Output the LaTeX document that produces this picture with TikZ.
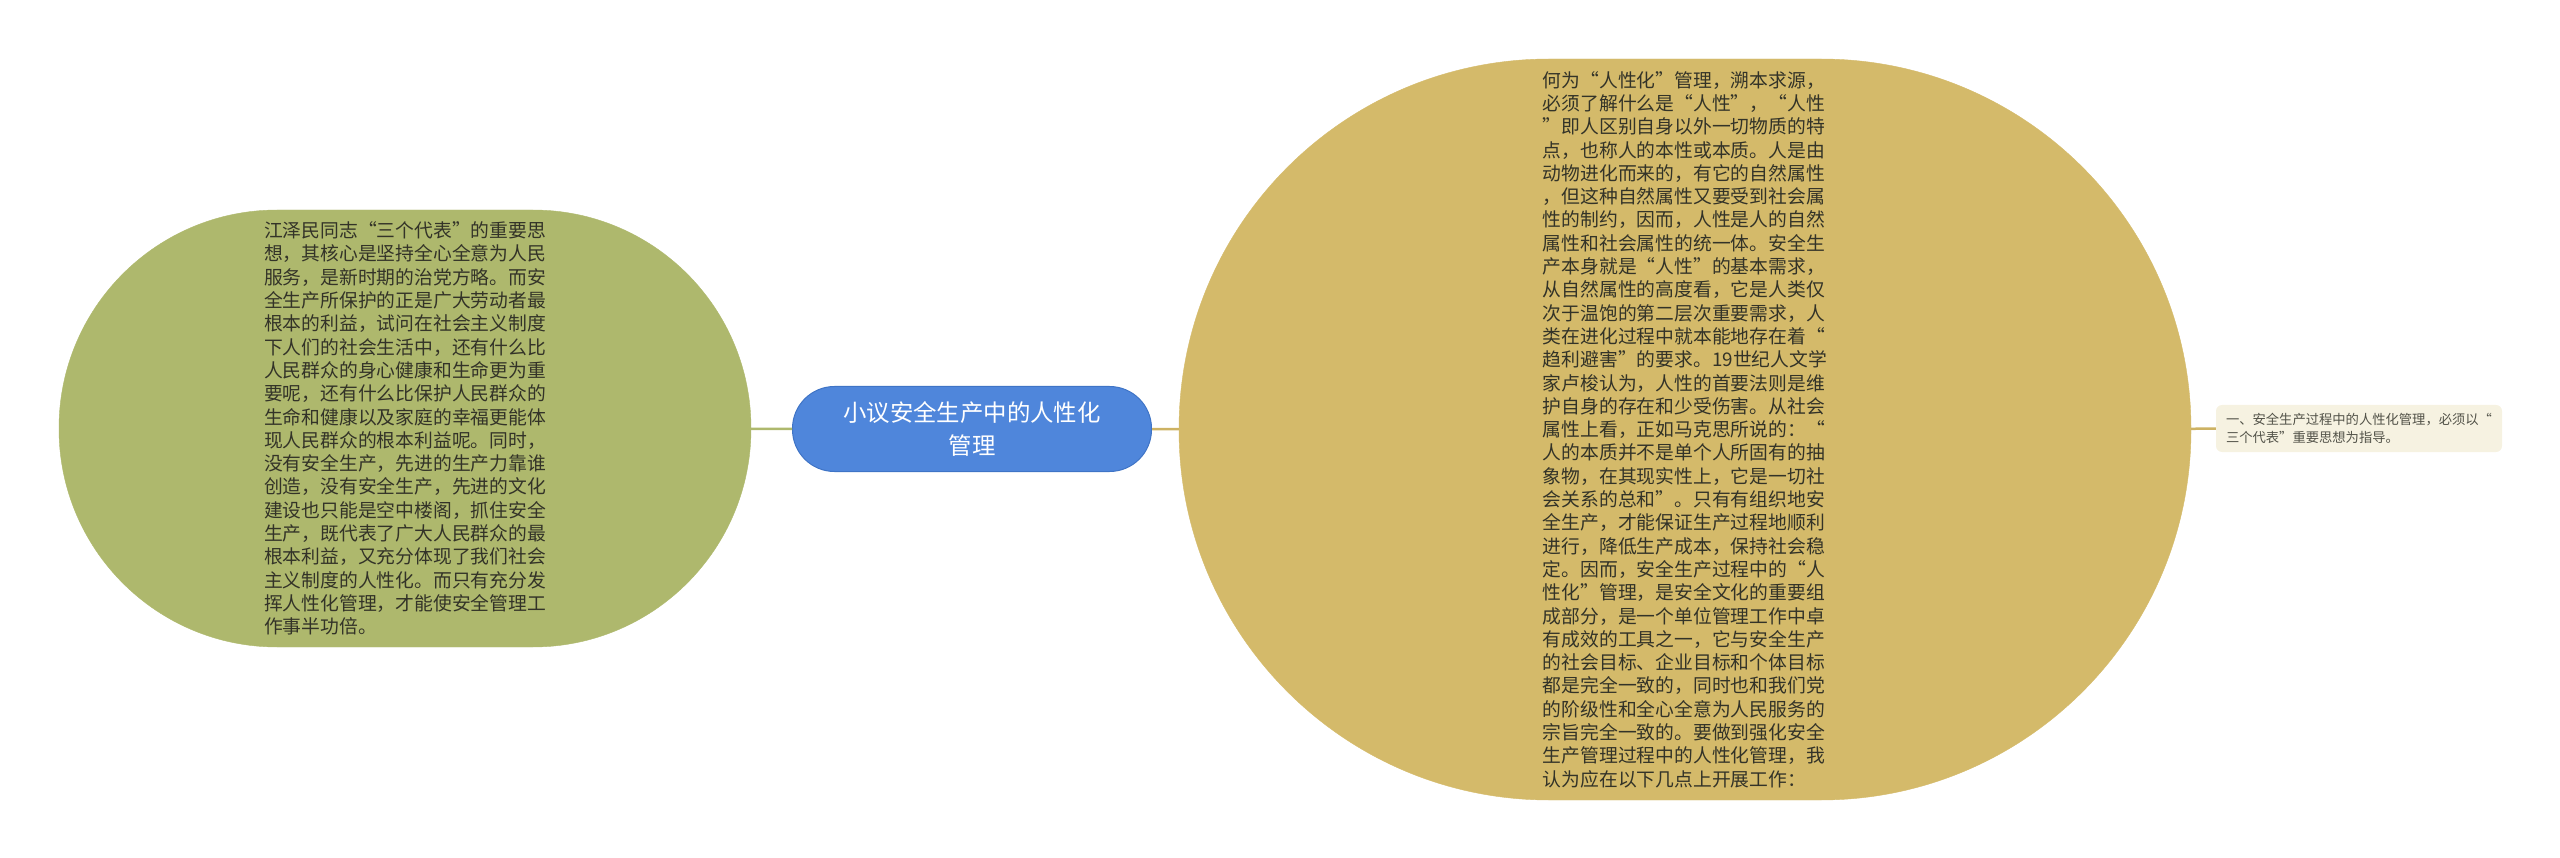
\documentclass[tikz,border=0pt]{standalone}
\usepackage{fontspec}
\setmainfont{Noto Sans CJK SC}[RawFeature=+fwid]
\newfontfamily\plainfont{Noto Sans CJK SC}
\definecolor{olivefill}{HTML}{AEB86D}
\definecolor{goldfill}{HTML}{D4BA6A}
\definecolor{goldline}{HTML}{CDB263}
\definecolor{bluefill}{HTML}{4F86DB}
\definecolor{blueline}{HTML}{3F74C6}
\definecolor{creamfill}{HTML}{F6F2E1}
\definecolor{bodytext}{HTML}{333328}
\tikzset{
  topic/.style={draw=#1, fill=#1, inner sep=0pt, align=left, text=bodytext,
    font=\fontsize{18.8}{23.3}\selectfont},
  root/.style={draw=blueline, fill=bluefill, line width=1pt, inner sep=0pt,
    align=center, text=white, font=\fontsize{23.4}{33}\selectfont,
    minimum width=359pt, minimum height=85pt, rounded corners=42pt},
  leaf/.style={fill=creamfill, inner sep=6pt, align=left, text=bodytext!85,
    font=\fontsize{13.3}{18}\selectfont, minimum width=286pt,
    minimum height=47pt, rounded corners=6pt},
  link/.style={-, line width=2.5pt, draw=#1}
}
\begin{document}
\begin{tikzpicture}[x=1pt, y=-1pt]
\useasboundingbox (0,0) rectangle (2560,858);
\node[root] (R) at (972,429) {小议安全生产中的人性化\\管理};
\node[topic=olivefill, minimum width=692pt, minimum height=437pt,
  rounded corners=218pt] (L) at (405,428.5) {%
江泽民同志“三个代表”的重要思\\
想，其核心是坚持全心全意为人民\\
服务，是新时期的治党方略。而安\\
全生产所保护的正是广大劳动者最\\
根本的利益，试问在社会主义制度\\
下人们的社会生活中，还有什么比\\
人民群众的身心健康和生命更为重\\
要呢，还有什么比保护人民群众的\\
生命和健康以及家庭的幸福更能体\\
现人民群众的根本利益呢。同时，\\
没有安全生产，先进的生产力靠谁\\
创造，没有安全生产，先进的文化\\
建设也只能是空中楼阁，抓住安全\\
生产，既代表了广大人民群众的最\\
根本利益，又充分体现了我们社会\\
主义制度的人性化。而只有充分发\\
挥人性化管理，才能使安全管理工\\
作事半功倍。};
\node[topic=goldfill, minimum width=1012pt, minimum height=741pt,
  rounded corners=370pt] (M) at (1685,429.5) {%
何为“人性化”管理，溯本求源，\\
必须了解什么是“人性”，“人性\\
”即人区别自身以外一切物质的特\\
点，也称人的本性或本质。人是由\\
动物进化而来的，有它的自然属性\\
，但这种自然属性又要受到社会属\\
性的制约，因而，人性是人的自然\\
属性和社会属性的统一体。安全生\\
产本身就是“人性”的基本需求，\\
从自然属性的高度看，它是人类仅\\
次于温饱的第二层次重要需求，人\\
类在进化过程中就本能地存在着“\\
趋利避害”的要求。{\plainfont 19}世纪人文学\\
家卢梭认为，人性的首要法则是维\\
护自身的存在和少受伤害。从社会\\
属性上看，正如马克思所说的：“\\
人的本质并不是单个人所固有的抽\\
象物，在其现实性上，它是一切社\\
会关系的总和”。只有有组织地安\\
全生产，才能保证生产过程地顺利\\
进行，降低生产成本，保持社会稳\\
定。因而，安全生产过程中的“人\\
性化”管理，是安全文化的重要组\\
成部分，是一个单位管理工作中卓\\
有成效的工具之一，它与安全生产\\
的社会目标、企业目标和个体目标\\
都是完全一致的，同时也和我们党\\
的阶级性和全心全意为人民服务的\\
宗旨完全一致的。要做到强化安全\\
生产管理过程中的人性化管理，我\\
认为应在以下几点上开展工作：};
\node[leaf] (S) at (2359,428.5) {一、安全生产过程中的人性化管理，必须以“\\三个代表”重要思想为指导。};
\path [link=olivefill] (L) edge (R);
\path [link=goldline] (R) edge (M);
\path [link=goldline] (M) edge (S);
\end{tikzpicture}
\end{document}
